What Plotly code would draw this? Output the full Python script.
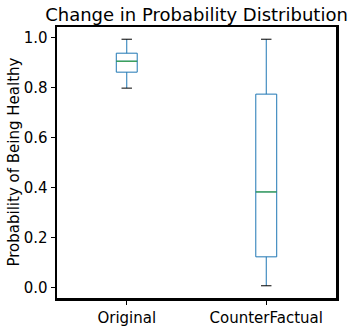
import plotly.graph_objects as go

categories = ["Original", "CounterFactual"]
positions = [1, 2]
lower_whisker = [0.799, 0.007]
q1 = [0.863, 0.123]
median = [0.907, 0.383]
q3 = [0.939, 0.775]
upper_whisker = [0.995, 0.995]
tick_vals_y = [0.0, 0.2, 0.4, 0.6, 0.8, 1.0]

BOX_W = 0.15
CAP_W = 0.075
blue = "#1f77b4"
green = "#2ca02c"

W, H = 355, 328

fig = go.Figure()
fig.add_trace(go.Box(
    x=positions, q1=q1, median=median, q3=q3,
    lowerfence=lower_whisker, upperfence=upper_whisker,
    width=BOX_W, whiskerwidth=0,
    line=dict(color=blue, width=1), fillcolor="rgba(0,0,0,0)",
    boxpoints=False, showlegend=False, hoverinfo="skip",
))

# median lines (green)
mx, my = [], []
for p, m in zip(positions, median):
    mx += [p - BOX_W / 2, p + BOX_W / 2, None]
    my += [m, m, None]
fig.add_trace(go.Scatter(x=mx, y=my, mode="lines", line=dict(color=green, width=1),
                         showlegend=False, hoverinfo="skip"))

# caps (black)
cx, cy = [], []
for p, lo, hi in zip(positions, lower_whisker, upper_whisker):
    for v in (lo, hi):
        cx += [p - CAP_W / 2, p + CAP_W / 2, None]
        cy += [v, v, None]
fig.add_trace(go.Scatter(x=cx, y=cy, mode="lines", line=dict(color="black", width=1),
                         showlegend=False, hoverinfo="skip"))

font = "DejaVu Sans"
fig.update_layout(
    width=W, height=H,
    margin=dict(l=57, r=19, t=27, b=30, autoexpand=False),
    paper_bgcolor="white", plot_bgcolor="white",
    font=dict(family=font, size=15, color="black"),
    title=dict(text="Change in Probability Distribution", xref="paper", x=0.5,
               xanchor="center", yref="container", y=1 - 21 / H, yanchor="bottom",
               font=dict(size=18, family=font, color="black")),
    xaxis=dict(range=[0.5, 2.5], tickvals=positions, ticktext=categories,
               showgrid=False, zeroline=False, showline=True, mirror=True,
               linecolor="black", linewidth=2.5, ticks="outside", ticklen=4,
               tickcolor="black", tickwidth=1, tickfont=dict(size=15),
               automargin=False),
    yaxis=dict(range=[-0.042, 1.044], tickvals=tick_vals_y,
               ticktext=[f"{v:.1f}" for v in tick_vals_y],
               showgrid=False, zeroline=False, showline=True, mirror=True,
               linecolor="black", linewidth=2.5, ticks="outside", ticklen=4,
               tickcolor="black", tickwidth=1, tickfont=dict(size=15),
               automargin=False),
    annotations=[dict(text="Probability of Being Healthy", xref="paper", yref="paper",
                      x=0, y=0.5, xshift=-44, xanchor="center", yanchor="middle",
                      textangle=-90, showarrow=False, font=dict(size=15, family=font))],
)

# remove the default 8px page margin so the figure sits at the window's top-left
fig.write_html("out.html",
               config={"displayModeBar": False, "staticPlot": True},
               post_script="document.body.style.margin='0';document.body.style.overflow='hidden';")
